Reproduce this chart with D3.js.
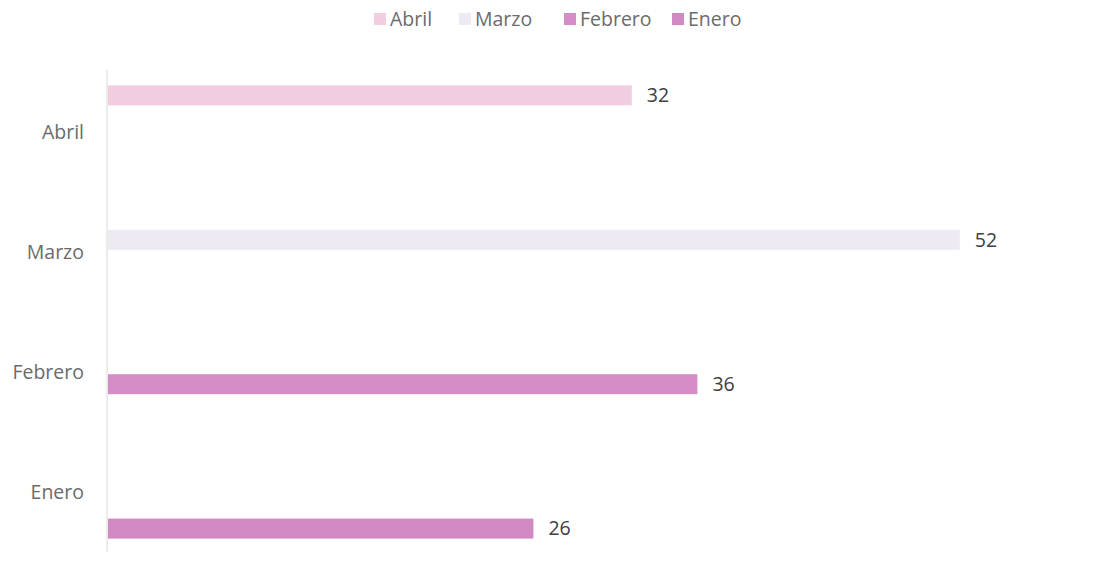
<!DOCTYPE html>
<html>
<head>
<meta charset="utf-8">
<script src="https://cdn.jsdelivr.net/npm/d3@7"></script>
<style>
  body { margin: 0; background: #fff; }
  text { font-family: "Open Sans", "Lato", sans-serif; }
</style>
</head>
<body>
<svg width="1111" height="575"></svg>
<script>
// categories top to bottom
const categories = ["Abril", "Marzo", "Febrero", "Enero"];
// series order inside each group, top to bottom
const series = ["Abril", "Marzo", "Febrero", "Enero"];
const seriesColors = ["#f1cde1", "#eeeaf3", "#d58ec5", "#d18ac1"];
// each category only has a value for its own series
const values = [32, 52, 36, 26];

const svg = d3.select("svg");

const x = d3.scaleLinear()
    .domain([0, 60])
    .range([107, 1091]);

const y0 = d3.scaleBand()
    .domain(categories)
    .range([72, 552]);

const y1 = d3.scaleBand()
    .domain(series)
    .range([0, y0.bandwidth()])
    .paddingInner(0.18)
    .paddingOuter(0.55);

const color = d3.scaleOrdinal()
    .domain(series)
    .range(seriesColors);

const rows = categories.map((c, i) => ({ cat: c, series: series[i], value: values[i] }));

// vertical axis line
svg.append("line")
    .attr("x1", x(0)).attr("x2", x(0))
    .attr("y1", y0.range()[0] - 2).attr("y2", y0.range()[1])
    .attr("stroke", "#d9d9d9")
    .attr("stroke-width", 1);

// category labels
svg.append("g")
    .selectAll("text")
    .data(categories)
    .enter().append("text")
    .attr("x", 84)
    .attr("y", d => y0(d) + y0.bandwidth() / 2)
    .attr("dy", "0.35em")
    .attr("text-anchor", "end")
    .attr("fill", "#6b6b6b")
    .style("font-size", "19.5px")
    .text(d => d);

const bar = svg.append("g")
    .selectAll("g")
    .data(rows)
    .enter().append("g")
    .attr("transform", d => `translate(0,${y0(d.cat) + y1(d.series)})`);

bar.append("rect")
    .attr("x", x(0) + 1)
    .attr("width", d => x(d.value) - x(0) - 1)
    .attr("height", y1.bandwidth())
    .attr("fill", d => color(d.series));

bar.append("text")
    .attr("x", d => x(d.value) + 15)
    .attr("y", y1.bandwidth() / 2)
    .attr("dy", "0.35em")
    .attr("fill", "#404040")
    .style("font-size", "19.5px")
    .text(d => d.value);

// legend
const legendX = [374, 459, 564, 672];
const legend = svg.append("g")
    .selectAll("g")
    .data(series)
    .enter().append("g")
    .attr("transform", (d, i) => `translate(${legendX[i]},19)`);

legend.append("rect")
    .attr("x", 0).attr("y", -6)
    .attr("width", 12).attr("height", 12)
    .attr("fill", d => color(d));

legend.append("text")
    .attr("x", 16)
    .attr("dy", "0.35em")
    .attr("fill", "#6b6b6b")
    .style("font-size", "19.5px")
    .text(d => d);
</script>
</body>
</html>
